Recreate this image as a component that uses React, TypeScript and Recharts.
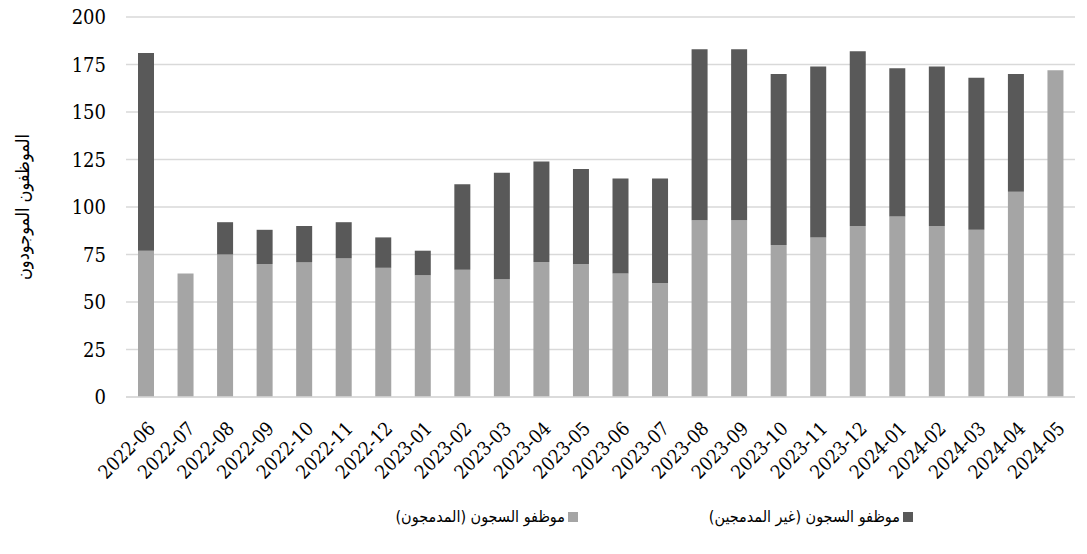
import React from "react";
import {
  BarChart,
  Bar,
  XAxis,
  YAxis,
  CartesianGrid,
  Legend,
} from "recharts";

const MONTHS = [
  "2022-06", "2022-07", "2022-08", "2022-09", "2022-10", "2022-11",
  "2022-12", "2023-01", "2023-02", "2023-03", "2023-04", "2023-05",
  "2023-06", "2023-07", "2023-08", "2023-09", "2023-10", "2023-11",
  "2023-12", "2024-01", "2024-02", "2024-03", "2024-04", "2024-05",
];

// integrated staff (bottom of each stack)
const INTEGRATED = [
  77, 65, 75, 70, 71, 73, 68, 64, 67, 62, 71, 70,
  65, 60, 93, 93, 80, 84, 90, 95, 90, 88, 108, 172,
];

// non-integrated staff (stacked on top)
const NON_INTEGRATED = [
  104, 0, 17, 18, 19, 19, 16, 13, 45, 56, 53, 50,
  50, 55, 90, 90, 90, 90, 92, 78, 84, 80, 62, 0,
];

const Y_TICKS = [0, 25, 50, 75, 100, 125, 150, 175, 200];

const NAME_INTEGRATED = "موظفو السجون (المدمجون)";
const NAME_NON_INTEGRATED = "موظفو السجون (غير المدمجين)";
const Y_TITLE = "الموظفون الموجودون";

const LIGHT = "#a5a5a5";
const DARK = "#595959";
const GRID = "#d9d9d9";
const NUM_FONT = "'DejaVu Serif Condensed', 'DejaVu Serif', serif";
const AR_FONT = "'DejaVu Sans Condensed', 'DejaVu Sans', sans-serif";

const data = MONTHS.map((m, i) => ({
  month: m,
  integrated: INTEGRATED[i],
  nonIntegrated: NON_INTEGRATED[i],
}));

const MonthTick = (props: any) => {
  const { x, y, payload } = props;
  return (
    <g transform={`translate(${x + 6},${y + 20})`}>
      <text
        transform="rotate(-45)"
        textAnchor="end"
        dy="0.35em"
        style={{ fontFamily: NUM_FONT }}
        fontSize={19}
        fill="#000"
      >
        {payload.value}
      </text>
    </g>
  );
};

// right edge of each legend entry (the swatch sits on the right, RTL)
const LEGEND_RIGHT = [509, 174];

const LegendContent = (props: any) => {
  const { payload = [] } = props;
  return (
    <div style={{ position: "relative", width: 1087, height: 54 }}>
      {payload.map((p: any, i: number) => (
        <div
          key={p.value}
          dir="rtl"
          style={{
            position: "absolute",
            right: LEGEND_RIGHT[i],
            top: 13,
            display: "flex",
            alignItems: "center",
            gap: 3,
            fontFamily: AR_FONT,
            fontSize: 16,
            color: "#000",
            whiteSpace: "nowrap",
          }}
        >
          <span
            style={{
              display: "inline-block",
              width: 10,
              height: 10,
              background: p.color,
            }}
          />
          <span>{p.value}</span>
        </div>
      ))}
    </div>
  );
};

export default function App() {
  return (
    <div style={{ position: "absolute", left: 0, top: 0, background: "#fff" }}>
      <BarChart
        width={1087}
        height={554}
        data={data}
        margin={{ top: 17, right: 12, left: 0, bottom: 6 }}
        barSize={16}
      >
        <CartesianGrid vertical={false} stroke={GRID} strokeWidth={1.5} />
        <XAxis
          dataKey="month"
          interval={0}
          height={97}
          tick={<MonthTick />}
          tickLine={false}
          axisLine={{ stroke: GRID, strokeWidth: 1.5 }}
        />
        <YAxis
          width={126}
          domain={[0, 200]}
          ticks={Y_TICKS}
          tickLine={false}
          axisLine={false}
          tickSize={0}
          tickMargin={20}
          tick={{ style: { fontFamily: NUM_FONT }, fontSize: 20, fill: "#000" }}
          label={{
            value: Y_TITLE,
            angle: -90,
            position: "insideLeft",
            offset: 23,
            style: { fontFamily: AR_FONT, fontSize: 18, fill: "#000", textAnchor: "middle" },
          }}
        />
        <Legend
          verticalAlign="bottom"
          height={54}
          content={<LegendContent />}
          wrapperStyle={{ left: 0, width: 1087 }}
        />
        <Bar
          dataKey="integrated"
          name={NAME_INTEGRATED}
          stackId="staff"
          fill={LIGHT}
          isAnimationActive={false}
        />
        <Bar
          dataKey="nonIntegrated"
          name={NAME_NON_INTEGRATED}
          stackId="staff"
          fill={DARK}
          isAnimationActive={false}
        />
      </BarChart>
    </div>
  );
}
